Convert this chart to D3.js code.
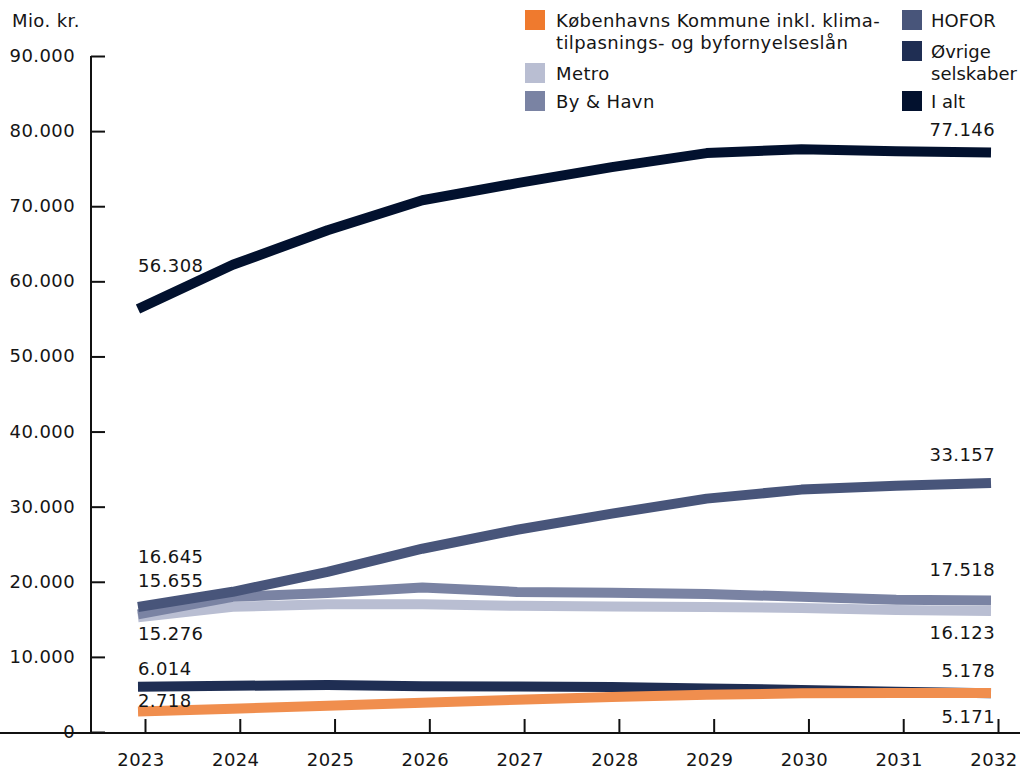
<!DOCTYPE html>
<html><head><meta charset="utf-8">
<script src="https://cdn.jsdelivr.net/npm/d3@7"></script>
<style>body{margin:0;background:#fff}svg{display:block;font-family:"DejaVu Sans",sans-serif;letter-spacing:0.4px}</style>
</head><body><svg id="c" width="1020" height="772"></svg>
<script>
const years = [2023,2024,2025,2026,2027,2028,2029,2030,2031,2032];
const yTicks = [0,10000,20000,30000,40000,50000,60000,70000,80000,90000];
const kommune = [2718,3100,3500,3900,4300,4650,4950,5150,5200,5178];
const metro   = [15276,16670,17000,17000,16800,16700,16650,16500,16250,16123];
const byhavn  = [15655,18000,18500,19250,18650,18530,18380,18000,17600,17518];
const hofor   = [16645,18670,21330,24400,26930,29070,31070,32270,32800,33157];
const ovrige  = [6014,6150,6250,6100,6050,6000,5800,5600,5350,5171];
const ialt    = [56308,62200,66800,70800,73070,75200,77070,77600,77330,77146];
const seriesNames = ["Københavns Kommune inkl. klima-|tilpasnings- og byfornyelseslån","Metro","By & Havn","HOFOR","Øvrige|selskaber","I alt"];
const swatchColors = ["#EF7A2E","#B9BED2","#7A83A3","#48557A","#1F2E53","#02112E"];
const lineColors   = ["#F08E4E","#B9BED2","#7A83A3","#48557A","#1F2E53","#02112E"];
const data = [kommune, metro, byhavn, hofor, ovrige, ialt];
// start labels (left) and end labels (right): [series index, dy offset]
const startLabels = [[5,-37],[3,-44],[2,-27],[1,23],[4,-12],[0,-5]];
const endLabels   = [[5,-17],[3,-22],[2,-24],[1,28],[4,30],[0,-16]];

const loc = d3.formatLocale({decimal:",",thousands:".",grouping:[3],currency:["",""]});
const fmt = loc.format(",d");
const svg = d3.select("#c");
const x = d3.scalePoint().domain(years).range([138,991]);
const y = d3.scaleLinear().domain([0,90000]).range([732,56]);
const fs = 18;
const txt = "#151515";

// axes
const yAxis = d3.axisRight(y).tickValues(yTicks).tickSize(14).tickFormat("");
const ga = svg.append("g").attr("transform","translate(91,0)").call(yAxis);
ga.select(".domain").attr("d","M0,56V733").attr("stroke","#111").attr("stroke-width",2);
ga.selectAll(".tick line").attr("stroke","#111").attr("stroke-width",2);
svg.append("g").selectAll("text").data(yTicks).join("text")
  .attr("x",75).attr("y",d=>y(d)+6).attr("text-anchor","end")
  .attr("font-size",fs).attr("fill",txt).text(d=>fmt(d));
svg.append("text").attr("x",12).attr("y",27).attr("font-size",fs).attr("fill",txt).text("Mio. kr.");

const xAxis = d3.axisTop(x).tickSize(14).tickFormat("");
const gx = svg.append("g").attr("transform","translate(7,733)").call(xAxis);
gx.select(".domain").attr("d","M-17,0H1013").attr("stroke","#111").attr("stroke-width",2);
gx.selectAll(".tick line").attr("stroke","#111").attr("stroke-width",2);
svg.append("g").selectAll("text").data(years).join("text")
  .attr("x",d=>x(d)+3).attr("y",766).attr("text-anchor","middle")
  .attr("font-size",fs).attr("fill",txt).text(d=>d);

// lines
const line = d3.line().x((d,i)=>x(years[i])).y(d=>y(d));
const order = [1,2,3,4,0,5];
svg.append("g").selectAll("path").data(order).join("path")
  .attr("d",i=>line(data[i])).attr("fill","none")
  .attr("stroke",i=>lineColors[i]).attr("stroke-width",10).attr("stroke-linejoin","round");

// value labels
svg.append("g").selectAll("text").data(startLabels).join("text")
  .attr("x",x(years[0])).attr("y",d=>y(data[d[0]][0])+d[1])
  .attr("font-size",fs).attr("fill",txt).text(d=>fmt(data[d[0]][0]));
svg.append("g").selectAll("text").data(endLabels).join("text")
  .attr("x",x(years[years.length-1])+4).attr("y",d=>y(data[d[0]][years.length-1])+d[1])
  .attr("text-anchor","end").attr("font-size",fs).attr("fill",txt)
  .text(d=>fmt(data[d[0]][years.length-1]));

// legend
const legPos = [[525,10],[525,63],[525,91],[902,10],[902,41],[902,91]];
const lg = svg.append("g").selectAll("g").data(seriesNames).join("g")
  .attr("transform",(d,i)=>`translate(${legPos[i][0]},${legPos[i][1]})`);
lg.append("rect").attr("width",20).attr("height",20).attr("fill",(d,i)=>swatchColors[i]);
lg.each(function(d,i){
  const t = d3.select(this).append("text").attr("font-size",fs).attr("fill",txt)
    .style("letter-spacing", i>=3 ? "0px" : null);
  d.split("|").forEach((s,k)=>t.append("tspan").attr("x",i>=3?29:31).attr("y",17+k*22).text(s));
});
</script></body></html>
